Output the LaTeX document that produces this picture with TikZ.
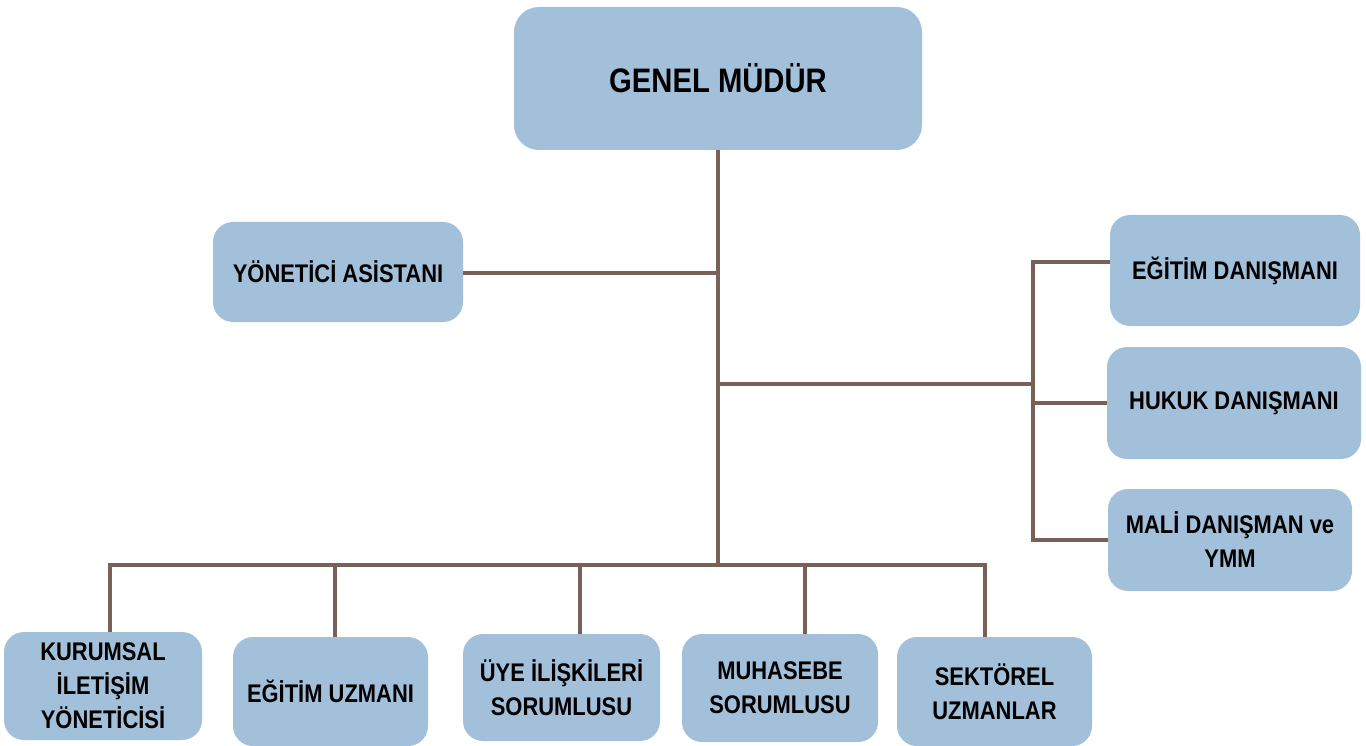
\documentclass[tikz,border=0pt]{standalone}
\usepackage{fontspec}
\setmainfont{Liberation Sans}[FakeStretch=0.86]
\definecolor{boxblue}{HTML}{A3C0DA}
\definecolor{linebrown}{HTML}{7A6158}
\begin{document}
\begin{tikzpicture}[x=1pt,y=-1pt,
  box/.style={fill=boxblue, rounded corners=20pt, inner sep=0pt, align=center,
    font=\fontsize{25.5}{34}\selectfont\bfseries},
  bigbox/.style={box, rounded corners=25pt, font=\fontsize{34}{40}\selectfont\bfseries},
  conn/.style={draw=linebrown, line width=4.3pt}]
\useasboundingbox (0,0) rectangle (1366,746);
% boxes
\node[bigbox, minimum width=408pt, minimum height=143pt] (gm) at (718,78.5) {GENEL MÜDÜR};
\node[box, minimum width=250pt, minimum height=100pt] (ya) at (338,272) {YÖNETİCİ ASİSTANI};
\node[box, minimum width=250pt, minimum height=111pt] (ed) at (1235,270.5) {EĞİTİM DANIŞMANI};
\node[box, minimum width=254pt, minimum height=112pt] (hd) at (1234,403) {HUKUK DANIŞMANI};
\node[box, minimum width=244pt, minimum height=102pt] (md) at (1230,540) {MALİ DANIŞMAN ve\\YMM};
\node[box, minimum width=198pt, minimum height=108pt] (ki) at (103,686) {KURUMSAL\\İLETİŞİM\\YÖNETİCİSİ};
\node[box, minimum width=195pt, minimum height=109pt] (eu) at (330.5,691.5) {EĞİTİM UZMANI};
\node[box, minimum width=197pt, minimum height=107pt] (uy) at (561.5,687.5) {ÜYE İLİŞKİLERİ\\SORUMLUSU};
\node[box, minimum width=196pt, minimum height=108pt] (mu) at (780,688) {MUHASEBE\\SORUMLUSU};
\node[box, minimum width=195pt, minimum height=109pt] (se) at (994.5,691.5) {SEKTÖREL\\UZMANLAR};
% junctions
\coordinate (busM) at (718,565);
\coordinate (jA) at (718,273);
\coordinate (jB) at (718,384);
\coordinate (br) at (1033,384);
\coordinate (bT) at (1033,262);
\coordinate (bB) at (1033,540);
\coordinate (busL) at (110,565);
\coordinate (d2) at (335,565);
\coordinate (d3) at (580,565);
\coordinate (d4) at (805,565);
\coordinate (busR) at (985,565);
% connectors
\draw[conn] (gm.south) -- (busM);
\draw[conn] (ya.east |- jA) -- (jA);
\draw[conn] (jB) -- (br);
\draw[conn] (bT -| ed.west) -- (bT) -- (bB) -- (bB -| md.west);
\draw[conn] (br |- hd.west) -- (hd.west);
\draw[conn] (busL |- ki.north) -- (busL) -- (busR) -- (busR |- se.north);
\draw[conn] (d2) -- (d2 |- eu.north);
\draw[conn] (d3) -- (d3 |- uy.north);
\draw[conn] (d4) -- (d4 |- mu.north);
\end{tikzpicture}
\end{document}
